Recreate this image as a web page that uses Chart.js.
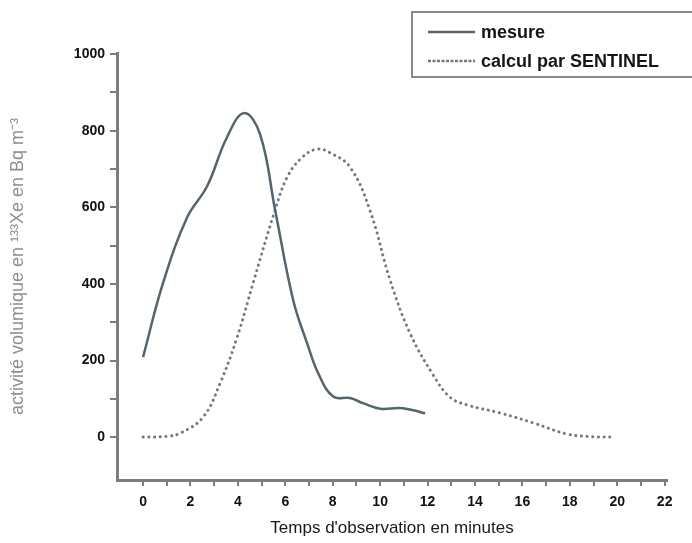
<!DOCTYPE html>
<html>
<head>
<meta charset="utf-8">
<script src="https://cdn.jsdelivr.net/npm/chart.js@4.4.0/dist/chart.umd.min.js"></script>
<style>
  html, body { margin: 0; padding: 0; background: #fff; }
  #wrap { width: 692px; height: 543px; position: relative; }
</style>
</head>
<body>
<div id="wrap"><canvas id="chart"></canvas></div>
<script>
// mesure (solid line)
var measureX = [0, 0.84, 1.86, 2.7, 3.54, 4.26, 4.94, 5.57, 6.33, 6.92, 7.4, 8.02, 8.73, 9.3, 10.0, 10.84, 11.4, 11.9];
var measureY = [209, 402, 574, 655, 783, 846, 790, 593, 358, 245, 165, 106, 102, 88, 74, 76, 70, 62];

// calcul par SENTINEL (dotted line)
var sentinelX = [0, 1.0, 1.56, 2.53, 3.25, 3.97, 4.64, 5.57, 6.08, 6.7, 7.34, 7.9, 8.73, 9.58, 10.42, 11.27, 12.24, 12.95, 13.67, 15.06, 16.46, 17.89, 19.0, 19.83];
var sentinelY = [0, 2, 10, 52, 141, 261, 402, 593, 679, 730, 752, 742, 705, 590, 410, 270, 162, 104, 84, 63, 37, 8, 1, 0];

var seriesNames = ['mesure', 'calcul par SENTINEL'];
var xTicks = [0, 1, 2, 3, 4, 5, 6, 7, 8, 9, 10, 11, 12, 13, 14, 15, 16, 17, 18, 19, 20, 21, 22];
var yTicks = [0, 100, 200, 300, 400, 500, 600, 700, 800, 900, 1000];

function pts(xs, ys) {
    return xs.map(function (x, i) { return { x: x, y: ys[i] }; });
}

var axisColor = '#7d7d7d';
var tickFont = { family: 'Liberation Sans, Arial, sans-serif', size: 14, weight: 'bold' };

// legend box drawn in the top right corner, over the plot
var boxLegend = {
    id: 'boxLegend',
    afterDraw: function (chart) {
        var ctx = chart.ctx;
        ctx.save();
        ctx.fillStyle = '#fff';
        ctx.fillRect(412, 12, 290, 65);
        ctx.strokeStyle = '#8a8a8a';
        ctx.lineWidth = 2;
        ctx.strokeRect(412, 12, 290, 65);
        ctx.font = 'bold 18px "Liberation Sans", Arial, sans-serif';
        ctx.textBaseline = 'middle';
        var rows = [32, 61];
        chart.data.datasets.forEach(function (ds, i) {
            ctx.beginPath();
            ctx.strokeStyle = ds.borderColor;
            ctx.lineWidth = 2.5;
            ctx.setLineDash(i === 0 ? [] : [3, 1.5]);
            ctx.moveTo(428, rows[i]);
            ctx.lineTo(475, rows[i]);
            ctx.stroke();
            ctx.setLineDash([]);
            ctx.fillStyle = '#151515';
            ctx.fillText(ds.label, 481, rows[i] + 1);
        });
        ctx.restore();
    }
};

var ctx = document.getElementById('chart').getContext('2d');
var chart = new Chart(ctx, {
    type: 'line',
    data: {
        datasets: [{
            label: seriesNames[0],
            data: pts(measureX, measureY),
            borderColor: '#56646c',
            borderWidth: 2.5,
            pointRadius: 0,
            tension: 0.4,
            fill: false
        }, {
            label: seriesNames[1],
            data: pts(sentinelX, sentinelY),
            borderColor: '#6b7a83',
            borderWidth: 3,
            borderDash: [0.1, 5.6],
            borderCapStyle: 'round',
            pointRadius: 0,
            tension: 0.4,
            fill: false
        }]
    },
    options: {
        responsive: true,
        maintainAspectRatio: false,
        animation: false,
        layout: { padding: { top: 53, right: 25, left: 0, bottom: 0 } },
        plugins: {
            legend: { display: false },
            tooltip: { enabled: false }
        },
        scales: {
            x: {
                type: 'linear',
                min: -1.1,
                max: 22.1,
                afterBuildTicks: function (scale) {
                    scale.ticks = xTicks.map(function (v) { return { value: v }; });
                },
                afterFit: function (scale) { scale.height = 63; },
                ticks: {
                    autoSkip: false,
                    maxRotation: 0,
                    padding: 8,
                    color: '#111',
                    font: tickFont,
                    callback: function (v) { return v % 2 === 0 ? v : ''; }
                },
                grid: {
                    drawOnChartArea: false,
                    drawTicks: true,
                    tickLength: 6,
                    color: axisColor,
                    lineWidth: 2
                },
                border: { display: true, color: axisColor, width: 3 },
                title: {
                    display: true,
                    text: "Temps d'observation en minutes",
                    color: '#1a1a1a',
                    font: { family: 'Liberation Sans, Arial, sans-serif', size: 17 },
                    padding: { top: 0, bottom: 4 }
                }
            },
            y: {
                type: 'linear',
                min: -112,
                max: 1003,
                afterBuildTicks: function (scale) {
                    scale.ticks = yTicks.map(function (v) { return { value: v }; });
                },
                afterFit: function (scale) { scale.width = 117; },
                ticks: {
                    autoSkip: false,
                    padding: 5,
                    color: '#111',
                    font: tickFont,
                    callback: function (v) { return v % 200 === 0 ? v : ''; }
                },
                grid: {
                    drawOnChartArea: false,
                    drawTicks: true,
                    tickLength: 7,
                    color: axisColor,
                    lineWidth: 2
                },
                border: { display: true, color: axisColor, width: 3 },
                title: {
                    display: true,
                    text: 'activité volumique en ¹³³Xe en Bq m⁻³',
                    color: '#8f8f8f',
                    font: { family: 'Liberation Sans, Arial, sans-serif', size: 18 },
                    padding: { top: 7, bottom: 0 }
                }
            }
        }
    },
    plugins: [boxLegend]
});
</script>
</body>
</html>
